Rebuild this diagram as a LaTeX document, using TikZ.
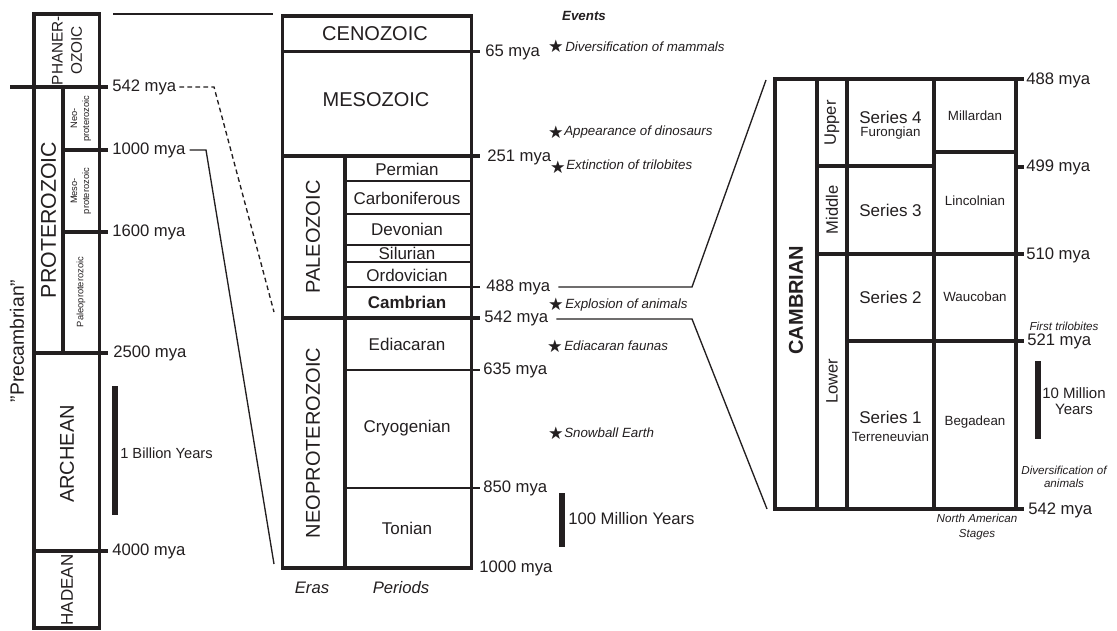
\documentclass[tikz,border=0pt]{standalone}
\usepackage{fontspec}
\setmainfont{Liberation Sans}
\newfontfamily\starfont{DejaVu Sans}
\definecolor{ink}{HTML}{231F20}
\begin{document}
\begin{tikzpicture}[x=0.75pt,y=-0.75pt,
  thickln/.style={line width=2.5pt, draw=ink},
  medln/.style={line width=1.5pt, draw=ink},
  conn/.style={line width=1pt, draw=ink},
  dashconn/.style={line width=1pt, draw=ink, dash pattern=on 3.5pt off 2.5pt},
  lbl/.style={inner sep=0pt, anchor=west, font=\fontsize{12.5}{14}\selectfont, text=ink},
  eralbl/.style={inner sep=0pt, font=\fontsize{15}{17}\selectfont, text=ink},
  perlbl/.style={inner sep=0pt, font=\fontsize{12.75}{15}\selectfont, text=ink},
  smalllbl/.style={inner sep=0pt, font=\fontsize{10}{12}\selectfont, text=ink},
  evt/.style={inner sep=0pt, anchor=west, font=\fontsize{10}{12}\selectfont\itshape, text=ink},
  note/.style={inner sep=0pt, align=center, font=\fontsize{8.7}{11}\selectfont\itshape, text=ink},
  starmark/.style={inner sep=0pt, font=\starfont\fontsize{13}{13}\selectfont, text=ink},
  scalebar/.style={fill=ink, draw=none},
]
\fill[white] (0,0) rectangle (1117,631);
\useasboundingbox (0,0) rectangle (1117,631);

% ================= LEFT COLUMN =================
\draw[thickln] (34,14) rectangle (99.5,628);
\draw[thickln] (10,87) -- (108,87);
\draw[thickln] (63,87) -- (63,353);
\draw[thickln] (63,150) -- (108,150);
\draw[thickln] (63,232) -- (108,232);
\draw[thickln] (34,353) -- (108,353);
\draw[thickln] (34,551) -- (108,551);

\node[inner sep=0pt, rotate=90, align=center, font=\fontsize{11.5}{14.5}\selectfont, text=ink] (phan) at (67,50.5) {PHANER-\\OZOIC};
\node[inner sep=0pt, rotate=90, font=\fontsize{16}{18}\selectfont, text=ink] (prot) at (48.5,220) {PROTEROZOIC};
\node[inner sep=0pt, rotate=90, align=center, font=\fontsize{7}{9}\selectfont, text=ink] (neop) at (81,118.5) {Neo-\\proterozoic};
\node[inner sep=0pt, rotate=90, align=center, font=\fontsize{7}{9}\selectfont, text=ink] (mesop) at (81,191) {Meso-\\proterozoic};
\node[inner sep=0pt, rotate=90, font=\fontsize{7}{9}\selectfont, text=ink] (paleop) at (81,292) {Paleoproterozoic};
\node[inner sep=0pt, rotate=90, font=\fontsize{15}{17}\selectfont, text=ink] (arch) at (67,454) {ARCHEAN};
\node[inner sep=0pt, rotate=90, font=\fontsize{12.75}{15}\selectfont, text=ink] (had) at (67,590) {HADEAN};
\node[inner sep=0pt, rotate=90, font=\fontsize{14.5}{16}\selectfont, text=ink] (precamb) at (17,341) {"Precambrian"};

\node[lbl] (l542) at (112,87) {542 mya};
\node[lbl] (l1000) at (112,150) {1000 mya};
\node[lbl] (l1600) at (112,232) {1600 mya};
\node[lbl] (l2500) at (113,353) {2500 mya};
\node[lbl] (l4000) at (112,551) {4000 mya};

\fill[scalebar] (112,386) rectangle (118,515);
\node[inner sep=0pt, anchor=west, font=\fontsize{11}{13}\selectfont, text=ink] (bil) at (120,453) {1 Billion Years};

% ================= CONNECTORS LEFT -> MIDDLE =================
\coordinate (topA) at (113,14);
\coordinate (topB) at (273,14);
\draw[conn] (topA) -- (topB);
\coordinate (dashA) at (214,87);
\coordinate (dashB) at (274,312);
\draw[dashconn] (l542.east) ++(3,0) -- (dashA) -- (dashB);
\coordinate (solA) at (206,150);
\coordinate (solB) at (274,564);
\draw[conn] (l1000.east) ++(4,0) -- (solA) -- (solB);

% ================= MIDDLE COLUMN =================
\draw[thickln] (282.7,16) rectangle (471.7,568);
\draw[thickln] (282.7,51.7) -- (480,51.7);
\draw[thickln] (282.7,156) -- (480,156);
\draw[thickln] (345,156) -- (345,568);
\draw[medln] (345,181) -- (471.7,181);
\draw[medln] (345,214) -- (471.7,214);
\draw[medln] (345,245) -- (471.7,245);
\draw[medln] (345,262) -- (471.7,262);
\draw[medln] (345,287) -- (480,287);
\draw[thickln] (282.7,318) -- (480,318);
\draw[medln] (345,370) -- (480,370);
\draw[medln] (345,488) -- (480,488);

\node[eralbl] (ceno) at (375,34) {CENOZOIC};
\node[eralbl] (meso) at (376,100) {MESOZOIC};
\node[eralbl, rotate=90] (paleo) at (313,237) {PALEOZOIC};
\node[eralbl, rotate=90] (neopz) at (313,443) {NEOPROTEROZOIC};

\node[perlbl] (perm) at (407,169) {Permian};
\node[perlbl] (carb) at (407,198) {Carboniferous};
\node[perlbl] (devo) at (407,229.5) {Devonian};
\node[perlbl] (silu) at (407,253.5) {Silurian};
\node[perlbl] (ordo) at (407,275) {Ordovician};
\node[perlbl, font=\fontsize{12.75}{15}\selectfont\bfseries] (camb) at (407,302.5) {Cambrian};
\node[perlbl] (edia) at (407,344) {Ediacaran};
\node[perlbl] (cryo) at (407,428) {Cryogenian};
\node[perlbl] (toni) at (407,528) {Tonian};

\node[inner sep=0pt, font=\fontsize{12.5}{14}\selectfont\itshape, text=ink] (eras) at (312,588) {Eras};
\node[inner sep=0pt, font=\fontsize{12.5}{14}\selectfont\itshape, text=ink] (pers) at (401,588) {Periods};

\node[lbl] (m65) at (485,52) {65 mya};
\node[lbl] (m251) at (487,157) {251 mya};
\node[lbl] (m488) at (486,287) {488 mya};
\node[lbl] (m542) at (484,318) {542 mya};
\node[lbl] (m635) at (483,370) {635 mya};
\node[lbl] (m850) at (483,488) {850 mya};
\node[lbl] (m1000) at (479,568) {1000 mya};

% ================= EVENTS =================
\node[inner sep=0pt, font=\fontsize{10}{12}\selectfont\bfseries\itshape, text=ink] (events) at (584,16) {Events};
\node[starmark] (s1) at (556,46) {★};
\node[evt] (e1) at (565,47) {Diversification of mammals};
\node[starmark] (s2) at (556,132) {★};
\node[evt] (e2) at (564,132) {Appearance of dinosaurs};
\node[starmark] (s3) at (558,167) {★};
\node[evt] (e3) at (566,165) {Extinction of trilobites};
\node[starmark] (s4) at (556,304) {★};
\node[evt] (e4) at (565,305) {Explosion of animals};
\node[starmark] (s5) at (555,346) {★};
\node[evt] (e5) at (564,346) {Ediacaran faunas};
\node[starmark] (s6) at (556,433) {★};
\node[evt] (e6) at (564,433) {Snowball Earth};

\fill[scalebar] (559,493) rectangle (565,547);
\node[inner sep=0pt, anchor=west, font=\fontsize{12.5}{14}\selectfont, text=ink] (hmy) at (568,519) {100 Million Years};

% ================= RIGHT COLUMN =================
\draw[thickln] (775,79) rectangle (1016,509);
\draw[thickln] (817,79) -- (817,509);
\draw[thickln] (847,79) -- (847,509);
\draw[thickln] (934,79) -- (934,509);
\draw[thickln] (1016,79) -- (1024,79);
\draw[thickln] (934,152) -- (1016,152);
\draw[thickln] (817,166) -- (934,166);
\draw[thickln] (1016,167) -- (1024,167);
\draw[thickln] (817,254) -- (1024,254);
\draw[thickln] (847,341) -- (1024,341);
\draw[thickln] (1016,509) -- (1024,509);

\node[eralbl, rotate=90, font=\fontsize{15}{17}\selectfont\bfseries] (cambR) at (796,300) {CAMBRIAN};
\node[perlbl, rotate=90, font=\fontsize{12.4}{14}\selectfont] (upper) at (832,123) {Upper};
\node[perlbl, rotate=90, font=\fontsize{12.4}{14}\selectfont] (middle) at (832,210) {Middle};
\node[perlbl, rotate=90, font=\fontsize{12.4}{14}\selectfont] (lower) at (832,381) {Lower};

\node[perlbl] (ser4) at (890.5,117) {Series 4};
\node[smalllbl] (furo) at (890.5,133) {Furongian};
\node[perlbl] (ser3) at (890.5,210) {Series 3};
\node[perlbl] (ser2) at (890.5,297) {Series 2};
\node[perlbl] (ser1) at (890.5,417) {Series 1};
\node[smalllbl] (terr) at (890.5,437) {Terreneuvian};

\node[smalllbl] (mill) at (975,116) {Millardan};
\node[smalllbl] (linc) at (975,201) {Lincolnian};
\node[smalllbl] (wauc) at (975,297) {Waucoban};
\node[smalllbl] (bega) at (975,422) {Begadean};

\node[lbl] (r488) at (1026,80) {488 mya};
\node[lbl] (r499) at (1026,167) {499 mya};
\node[lbl] (r510) at (1026,255) {510 mya};
\node[lbl] (r521) at (1027,341) {521 mya};
\node[lbl] (r542) at (1028,510) {542 mya};

\node[note] (firsttri) at (1064,326) {First trilobites};
\fill[scalebar] (1035,361) rectangle (1041,439);
\node[inner sep=0pt, align=center, font=\fontsize{11.25}{11.5}\selectfont, text=ink] (tmy) at (1074,401) {10 Million\\Years};
\node[note, font=\fontsize{8.7}{10}\selectfont\itshape] (divan) at (1064,477) {Diversification of\\animals};
\node[note] (nas) at (977,527) {North American\\Stages};

% ================= CONNECTORS MIDDLE -> RIGHT =================
\coordinate (c488a) at (692,287);
\coordinate (c488b) at (766,80);
\draw[conn] (m488.east) ++(8,0) -- (c488a) -- (c488b);
\coordinate (c542a) at (692,319);
\coordinate (c542b) at (767,509);
\draw[conn] (m542.east) ++(8,1) -- (c542a) -- (c542b);
\end{tikzpicture}
\end{document}
